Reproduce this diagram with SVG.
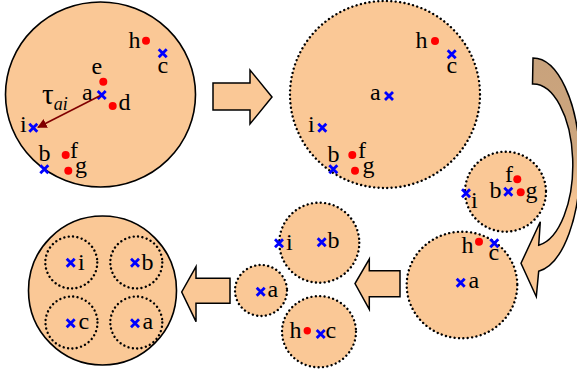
<svg xmlns="http://www.w3.org/2000/svg" xmlns:xlink="http://www.w3.org/1999/xlink" width="577" height="372" viewBox="0 0 577 372">
<style>
.solid{fill:#FAC896;stroke:#000;stroke-width:1.6}
.dot{fill:#FAC896;stroke:#000;stroke-width:2.4;stroke-dasharray:0.01 4.4;stroke-linecap:round}
.dotin{fill:none;stroke:#000;stroke-width:2.4;stroke-dasharray:0.01 4.4;stroke-linecap:round}
.pt{fill:#FF0000}
.cr{stroke:#0000FF;stroke-width:2.8;fill:none}
text{font-family:"Liberation Serif","Times New Roman",serif;font-size:24px;fill:#000}
.blk{fill:#FAC896;stroke:#000;stroke-width:1.5;stroke-linejoin:miter}
</style>
<defs>
<path id="x" d="M-4,-4 L4,4 M4,-4 L-4,4" class="cr"/>
<marker id="ah" viewBox="0 0 10 10" refX="9" refY="5" markerWidth="6" markerHeight="6" orient="auto" markerUnits="strokeWidth">
<path d="M0,0 L10,5 L0,10 z" fill="#800000"/>
</marker>
<linearGradient id="cg" gradientUnits="userSpaceOnUse" x1="0" y1="58" x2="0" y2="297">
<stop offset="0" stop-color="#C8A27C"/>
<stop offset="0.38" stop-color="#CDA67E"/>
<stop offset="0.62" stop-color="#FAC896"/>
<stop offset="1" stop-color="#FAC896"/>
</linearGradient>
</defs>

<g id="cluster1">
<ellipse class="solid" cx="100.5" cy="94.5" rx="95" ry="92.5"/>
<circle class="pt" cx="146" cy="40.7" r="4"/><text x="128.5" y="48">h</text>
<use href="#x" x="162.7" y="53.3"/><text x="157.5" y="73">c</text>
<circle class="pt" cx="103.3" cy="81.7" r="4"/><text x="91.5" y="74">e</text>
<use href="#x" x="101.7" y="95"/><text x="82" y="100">a</text>
<circle class="pt" cx="112.7" cy="106" r="4"/><text x="118.5" y="110">d</text>
<use href="#x" x="33.3" y="127.7"/><text x="20" y="132">i</text>
<use href="#x" x="44.3" y="169.3"/><text x="38.5" y="161">b</text>
<circle class="pt" cx="65.7" cy="155" r="4"/><text x="70" y="158">f</text>
<circle class="pt" cx="68.3" cy="170.7" r="4"/><text x="75" y="173">g</text>
<text x="42" y="104"><tspan font-size="29">τ</tspan><tspan font-style="italic" font-size="18" dy="6">ai</tspan></text>
</g>

<g id="cluster2">
<ellipse class="dot" cx="385" cy="94.5" rx="95" ry="93.5"/>
<use href="#x" x="389" y="96"/><text x="370" y="100">a</text>
<use href="#x" x="322.3" y="127.7"/><text x="308" y="132">i</text>
<use href="#x" x="333.3" y="169.3"/><text x="327.5" y="162">b</text>
<circle class="pt" cx="352.3" cy="155" r="4"/><text x="358" y="158">f</text>
<circle class="pt" cx="355" cy="170.7" r="4"/><text x="362.5" y="173">g</text>
<circle class="pt" cx="435" cy="41" r="4"/><text x="415.5" y="48">h</text>
<use href="#x" x="451.7" y="54.3"/><text x="446.5" y="73">c</text>
</g>

<g id="cluster3">
<ellipse class="dot" cx="505.5" cy="191.7" rx="40.5" ry="40"/>
<circle class="pt" cx="517.3" cy="179.3" r="4"/><text x="505" y="182">f</text>
<use href="#x" x="508.3" y="191.7"/><text x="489.5" y="198">b</text>
<circle class="pt" cx="520.7" cy="192.3" r="4"/><text x="525.5" y="198">g</text>
<use href="#x" x="466" y="193.3"/><text x="471" y="208">i</text>
</g>

<g id="cluster4">
<ellipse class="dot" cx="462" cy="285" rx="55.3" ry="53.3"/>
<circle class="pt" cx="479" cy="241.7" r="4"/><text x="461.5" y="253">h</text>
<use href="#x" x="494.3" y="243.3"/><text x="488.5" y="260">c</text>
<use href="#x" x="460.7" y="282.7"/><text x="468.5" y="288">a</text>
</g>

<g id="cluster5">
<circle class="dot" cx="319.3" cy="242.7" r="40"/>
<use href="#x" x="279" y="243.3"/><text x="286" y="250">i</text>
<use href="#x" x="321.7" y="242.3"/><text x="327.5" y="248">b</text>
</g>

<g id="cluster6">
<ellipse class="dot" cx="261" cy="290.5" rx="26" ry="25.5"/>
<use href="#x" x="260.7" y="291.7"/><text x="267.5" y="297">a</text>
</g>

<g id="cluster7">
<ellipse class="dot" cx="319" cy="331.7" rx="37" ry="35.6"/>
<circle class="pt" cx="307.3" cy="330.7" r="3.7"/><text x="289.5" y="338">h</text>
<use href="#x" x="320.7" y="334"/><text x="325.5" y="338">c</text>
</g>

<g id="final">
<ellipse class="solid" cx="102.5" cy="290.5" rx="74" ry="74.5"/>
<circle class="dotin" cx="71.3" cy="262.5" r="26"/>
<circle class="dotin" cx="136.3" cy="262.5" r="26"/>
<circle class="dotin" cx="71.5" cy="322.5" r="26"/>
<circle class="dotin" cx="136.3" cy="322.5" r="26"/>
<use href="#x" x="70.7" y="262.7"/><text x="78" y="270">i</text>
<use href="#x" x="135" y="262.7"/><text x="141.5" y="270">b</text>
<use href="#x" x="70.7" y="323.3"/><text x="78.5" y="329">c</text>
<use href="#x" x="135" y="323.3"/><text x="142.5" y="329">a</text>
</g>

<g id="connectors">
<line x1="100" y1="95.8" x2="38" y2="127.3" stroke="#800000" stroke-width="1.6" marker-end="url(#ah)"/>
<path class="blk" d="M213,83 L250,83 L250,70 L272,97 L250,124 L250,110 L213,110 Z"/>
<path class="blk" d="M400,270.7 L369.3,270.7 L369.3,259 L355,283.5 L369.3,309.3 L369.3,296.7 L400,296.7 Z"/>
<path class="blk" d="M230,278.3 L196,278.3 L196,266.7 L181.7,292 L196,321.7 L196,303.3 L230,303.3 Z"/>
<path d="M533,58 A47,107 0 0 1 538.7,271.2 L536.3,296.7 L521,263.3 L540.3,221.7 L538.7,245.2 A39.6,81 0 0 0 532.5,84 Z" fill="url(#cg)" stroke="#000" stroke-width="1.5" stroke-linejoin="miter"/>
</g>
</svg>
